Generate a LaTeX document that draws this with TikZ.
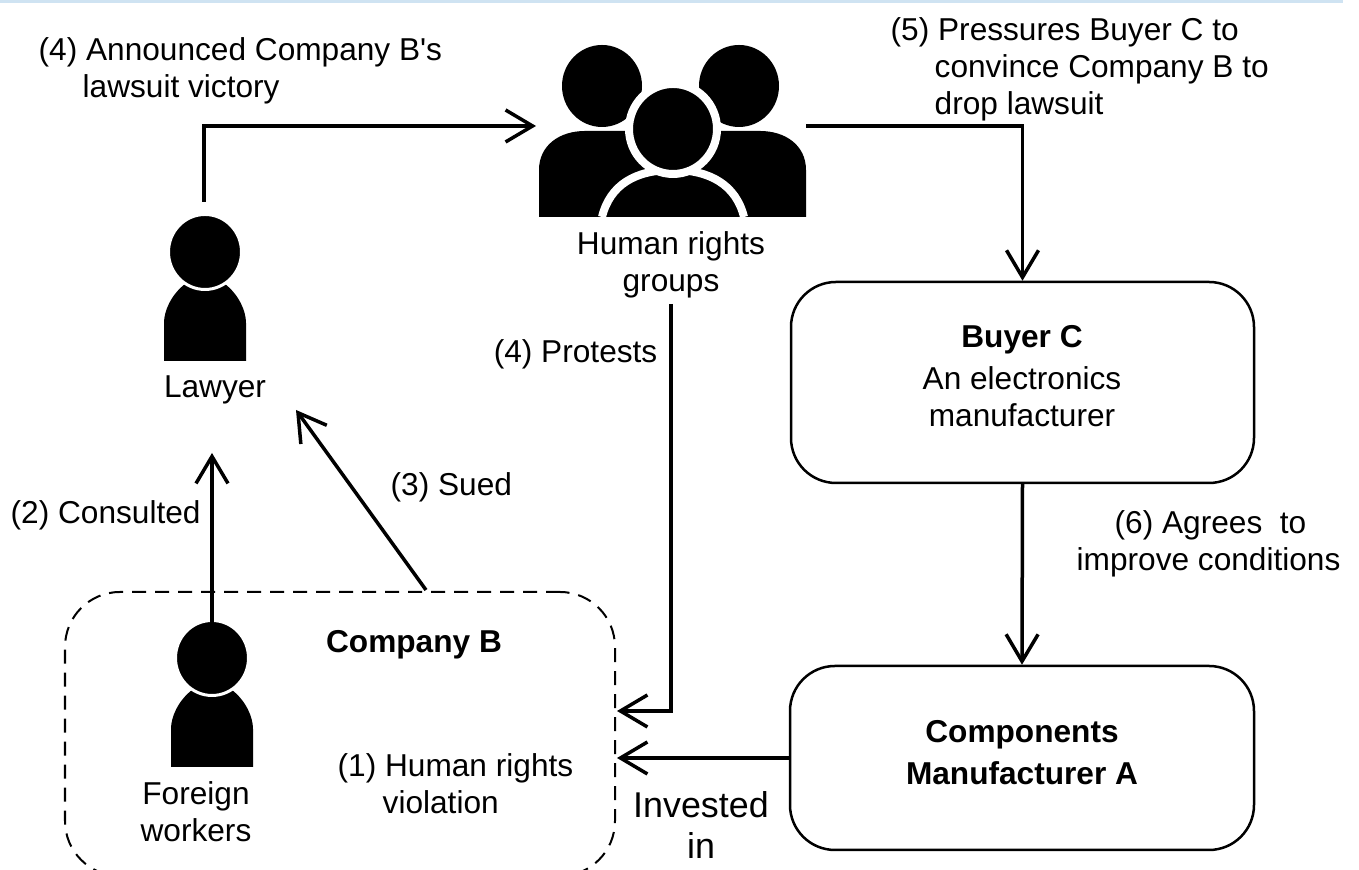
\documentclass[tikz,border=0pt]{standalone}
\usepackage{fontspec}
\setmainfont{Liberation Sans}
\newfontfamily\widefont{Liberation Sans}
\usepackage{tikz}
\usetikzlibrary{arrows.meta}
\definecolor{topband}{HTML}{CFE3F2}
\tikzset{>={Straight Barb[length = 0.27cm, width = 0.32cm, line width = 0.035cm]}}
\tikzset{line/.style = {line width = 0.035cm}}
\tikzset{lbl/.style = {inner sep = 0, align = center, font = \fontsize{9}{10.5}\selectfont}}
\tikzset{box/.style = {draw, line width = 0.025cm, rounded corners = 0.45cm, inner sep = 0, align = center, font = \fontsize{9}{10.5}\selectfont}}
\tikzset{dude/.pic = {
    \fill (-0.41, 0) -- (-0.41, 0.38) .. controls (-0.41, 0.5) and (-0.34, 0.66) .. (-0.2, 0.77) -- (0.2, 0.77) .. controls (0.34, 0.66) and (0.41, 0.5) .. (0.41, 0.38) -- (0.41, 0) -- cycle;
    \filldraw [draw = white, line width = 0.03cm] (0, 1.09) circle [x radius = 0.365, y radius = 0.375];
  }}
\begin{document}
\begin{tikzpicture}
  \useasboundingbox (0, 0) rectangle (13.59, 8.70);
  \fill [topband] (0, 8.67) rectangle (13.43, 8.70);

  % the people
  \pic at (2.05, 5.09) {dude};
  \pic at (2.12, 1.03) {dude};

  % the crowd
  \fill (6.02, 7.84) circle [x radius = 0.4, y radius = 0.41];
  \fill (7.39, 7.84) circle [x radius = 0.4, y radius = 0.41];
  \fill (5.39, 6.53) -- (5.39, 7.0) .. controls (5.39, 7.25) and (5.6, 7.39) .. (5.85, 7.39) -- (7.6, 7.39) .. controls (7.85, 7.39) and (8.06, 7.25) .. (8.06, 7.0) -- (8.06, 6.53) -- cycle;
  \filldraw [draw = white, line width = 0.08cm] (6.02, 6.53) .. controls (6.1, 6.85) and (6.35, 7.0) .. (6.73, 7.0) .. controls (7.1, 7.0) and (7.36, 6.85) .. (7.44, 6.53);
  \filldraw [draw = white, line width = 0.08cm] (6.73, 7.41) circle [x radius = 0.44, y radius = 0.45];

  % boxes
  \node [box, minimum width = 4.63cm, minimum height = 2.01cm] (buyer) at (10.225, 4.875) {};
  \node [box, minimum width = 4.64cm, minimum height = 1.84cm] (components) at (10.22, 1.12) {};
  \node [box, dashed, dash pattern = on 0.14cm off 0.09cm, line width = 0.02cm, rounded corners = 0.55cm, minimum width = 5.5cm, minimum height = 2.84cm] (companyb) at (3.4, 1.36) {};

  % texts
  \node [lbl, align = left, anchor = north west] (announced) at (0.38, 8.33) {(4) Announced Company B\textquotesingle s\\\hspace*{0.44cm}lawsuit victory};
  \node [lbl, align = left, anchor = north west] (pressures) at (8.90, 8.53) {(5) Pressures Buyer C to\\\hspace*{0.44cm}convince Company B to\\\hspace*{0.44cm}drop lawsuit};
  \node [lbl] (lawyer) at (2.15, 4.80) {Lawyer};
  \node [lbl] (rights) at (6.71, 6.05) {Human rights\\groups};
  \node [lbl, anchor = east] (protests) at (6.58, 5.16) {(4) Protests};
  \node [lbl, anchor = west] (consulted) at (0.10, 3.55) {(2) Consulted};
  \node [lbl, anchor = west] (sued) at (3.90, 3.83) {(3) Sued};
  \node [lbl, align = left, anchor = north west] (agrees) at (10.76, 3.60) {\hspace*{0.38cm}(6) Agrees\ \ to\\improve conditions};
  \node [lbl, font = \bfseries\fontsize{9}{10.5}\selectfont] at (10.22, 5.30) (buyername) {Buyer C};
  \node [lbl] (buyertext) at (10.22, 4.73) {An electronics\\manufacturer};
  \node [lbl, font = \bfseries\fontsize{9}{12}\selectfont] (compname) at (10.22, 1.17) {Components\\Manufacturer A};
  \node [lbl, font = \bfseries\fontsize{9}{10.5}\selectfont] (bname) at (4.14, 2.25) {Company B};
  \node [lbl, align = left, anchor = north west] (violation) at (3.37, 1.17) {(1) Human rights\\\hspace*{0.45cm}violation};
  \node [lbl] (foreign) at (1.96, 0.58) {Foreign\\workers};
  \node [lbl, font = \widefont\fontsize{10.2}{11.8}\selectfont] (invested) at (7.01, 0.45) {Invested\\in};

  % ends of the arrows
  \coordinate (lawyerout) at (2.04, 6.68);
  \coordinate (crowdin) at (5.36, 7.44);
  \coordinate (crowdout) at (8.06, 7.44);
  \coordinate (crowddown) at (6.71, 5.66);
  \coordinate (protestin) at (6.17, 1.59);
  \coordinate (investin) at (6.17, 1.12);
  \coordinate (workerout) at (2.12, 2.47);
  \coordinate (lawyerin) at (2.12, 4.17);
  \coordinate (suedout) at (4.26, 2.80);
  \coordinate (suedin) at (2.96, 4.60);

  \draw [line, ->] (lawyerout) |- (crowdin);
  \draw [line, ->] (crowdout) -| (buyer.north);
  \draw [line, ->] (crowddown) |- (protestin);
  \draw [line, ->] (components.west) -- (investin);
  \draw [line, ->] (buyer.south) -- (components.north);
  \draw [line, ->] (workerout) -- (lawyerin);
  \draw [line, ->] (suedout) -- (suedin);
\end{tikzpicture}
\end{document}
